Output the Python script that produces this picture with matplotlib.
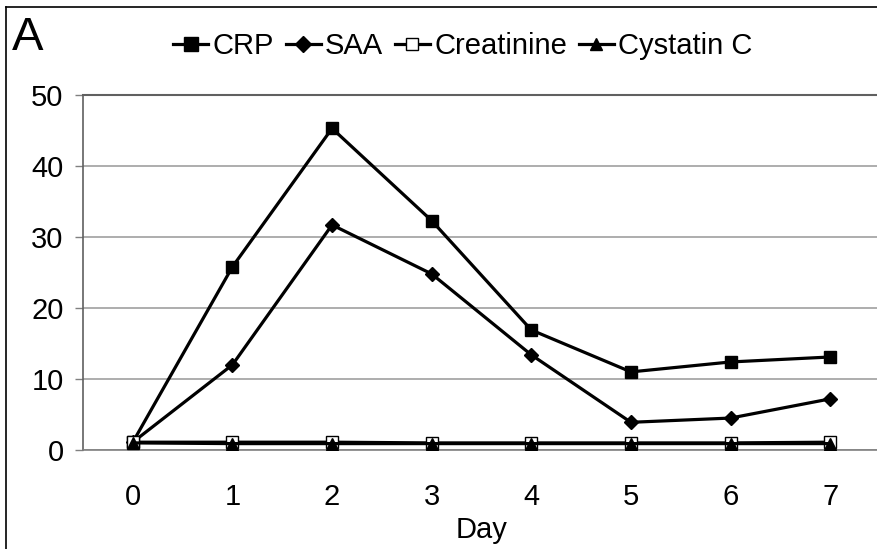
import numpy as np
import matplotlib
matplotlib.use('Agg')
import matplotlib.pyplot as plt
from matplotlib.lines import Line2D

plt.rcParams['font.family'] = ['Liberation Sans', 'DejaVu Sans']

## data
days = [0, 1, 2, 3, 4, 5, 6, 7]
crp = [1.1, 25.8, 45.3, 32.3, 16.9, 11.0, 12.4, 13.1]
saa = [1.1, 12.0, 31.7, 24.8, 13.4, 3.9, 4.5, 7.2]
creatinine = [1.1, 1.1, 1.1, 1.0, 1.0, 1.0, 1.0, 1.1]
cystatin = [1.0, 0.9, 0.9, 0.9, 0.9, 0.9, 0.9, 0.9]
yticks = [0, 10, 20, 30, 40, 50]

W, H = 877, 549
fig = plt.figure(figsize=(W / 100, H / 100), dpi=100)
ax = fig.add_axes([83 / W, 99 / H, 797 / W, 355 / H])

lw = 2.3
ax.plot(days, crp, color='black', lw=lw, marker='s', ms=9, mfc='black', mec='black',
        label='CRP', zorder=3)
ax.plot(days, saa, color='black', lw=lw, marker='D', ms=7.5, mfc='black', mec='black',
        label='SAA', zorder=3)
ax.plot(days, creatinine, color='black', lw=lw, marker='s', ms=8, mfc='white', mec='black',
        mew=1, label='Creatinine', zorder=3)
ax.plot(days, cystatin, color='black', lw=lw, marker='^', ms=8, mfc='black', mec='black',
        label='Cystatin C', zorder=3)

ax.set_xlim(-0.5, 7.5)
ax.set_ylim(0, 50)
ax.set_xticks(days)
ax.set_yticks(yticks)
ax.tick_params(axis='x', length=0, pad=24, labelsize=21)
ax.tick_params(axis='y', length=6, width=1, color='#808080', pad=8, labelsize=21)
ax.yaxis.grid(True, color='#a0a0a0', lw=1.2)
ax.set_axisbelow(True)

ax.spines['right'].set_visible(False)
ax.spines['top'].set_color('#606060')
ax.spines['top'].set_linewidth(1.5)
ax.spines['left'].set_color('#606060')
ax.spines['left'].set_linewidth(1.2)
ax.spines['bottom'].set_color('#808080')
ax.spines['bottom'].set_linewidth(1.2)

ax.set_xlabel('Day', fontsize=21, labelpad=3)

fig.legend(loc='center', bbox_to_anchor=(463 / W, 1 - 46 / H), ncol=4, frameon=False,
           fontsize=21, handlelength=1.2, handletextpad=0.15, columnspacing=0.4,
           borderaxespad=0, markerscale=1.1)

fig.text(12 / W, 1 - 50 / H, 'A', fontsize=34, ha='left', va='baseline')

## outer frame (left and top edges only)
fig.add_artist(Line2D([6 / W, 6 / W], [0, 1 - 7 / H], transform=fig.transFigure,
                      color='black', lw=1.2))
fig.add_artist(Line2D([6 / W, 1], [1 - 7 / H, 1 - 7 / H], transform=fig.transFigure,
                      color='black', lw=1.2))

fig.savefig('out.png', dpi=100)
